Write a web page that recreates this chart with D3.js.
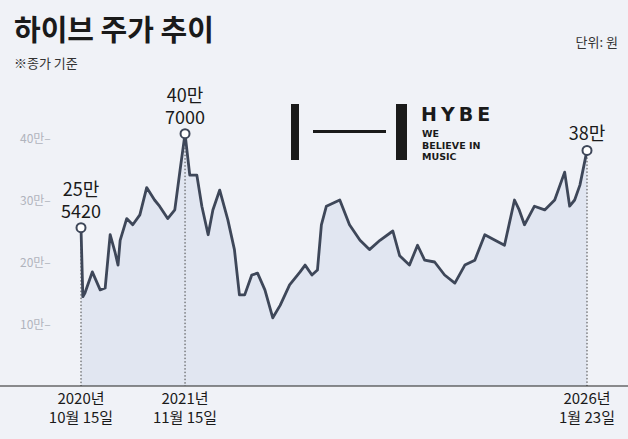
<!DOCTYPE html>
<html><head><meta charset="utf-8">
<script src="https://cdn.jsdelivr.net/npm/d3@7"></script>
<style>body{margin:0;background:#f0f2f7;}svg{display:block;font-family:"Noto Sans CJK KR","Noto Sans",sans-serif;}</style>
</head><body><div class="chart"></div>
<script>
// price in 만원
const dates = ["2020-10-15","2020-10-22","2020-10-30","2020-11-27","2020-12-27","2021-01-15","2021-02-03","2021-02-22","2021-03-05","2021-03-13","2021-04-07","2021-04-30","2021-05-27","2021-06-22","2021-07-22","2021-08-10","2021-09-10","2021-10-07","2021-10-27","2021-11-15","2021-12-03","2021-12-30","2022-01-18","2022-02-11","2022-03-01","2022-03-27","2022-04-27","2022-05-22","2022-06-10","2022-06-30","2022-07-27","2022-08-18","2022-09-15","2022-10-15","2022-11-12","2022-12-18","2023-01-27","2023-02-15","2023-03-13","2023-04-03","2023-04-18","2023-05-07","2023-06-27","2023-08-03","2023-09-12","2023-10-18","2023-11-27","2024-01-15","2024-02-10","2024-03-18","2024-04-18","2024-05-15","2024-06-22","2024-07-30","2024-09-07","2024-10-15","2024-11-22","2024-12-30","2025-02-07","2025-03-15","2025-04-22","2025-05-10","2025-05-30","2025-07-07","2025-08-15","2025-09-22","2025-10-30","2025-11-18","2025-12-07","2025-12-27","2026-01-23"];
const prices = [25.54,14.4,15,18.4,15.5,15.8,24.4,21.5,19.5,23.5,27,26,27.6,32,30,29,27,28.4,34.8,40.7,34,34,29,24.4,28.4,31.6,26.8,22,14.7,14.7,17.9,18.2,15.5,11,13,16.3,18.4,19.5,17.9,18.7,26,29,30,26,23.5,22,23.5,25,21,19.5,22.7,20.3,20,17.9,16.6,19.5,20.3,24.4,23.5,22.7,30,28.4,26,29,28.4,30,34.5,29,30,32.4,38];
const yTicks = [10,20,30,40];
const marks = [
  {date:"2020-10-15", value:25.542, label:["25만","5420"], axis:["2020년","10월 15일"]},
  {date:"2021-11-15", value:40.7, label:["40만","7000"], axis:["2021년","11월 15일"]},
  {date:"2026-01-23", value:38, label:["38만"], axis:["2026년","1월 23일"]}
];

const W = 628, H = 439;
const parse = d3.timeParse("%Y-%m-%d");
const data = dates.map((d, i) => ({d: parse(d), v: prices[i]}));
const svg = d3.select(".chart").append("svg").attr("width", W).attr("height", H);

const x = d3.scaleTime().domain([parse(dates[0]), parse(dates[dates.length - 1])]).range([81, 587]);
const y = d3.scaleLinear().domain([0, 40]).range([386, 138]);

// title
svg.append("text").attr("x", 14).attr("y", 41).text("하이브 주가 추이")
  .style("font-size", "29px").style("font-weight", 700).style("fill", "#1a1a1a");
svg.append("text").attr("x", 14).attr("y", 68).text("※종가 기준")
  .style("font-size", "13px").style("fill", "#333");
svg.append("text").attr("x", 618).attr("y", 47).attr("text-anchor", "end").text("단위: 원")
  .style("font-size", "13px").style("fill", "#333");

// logo
const logo = svg.append("g").style("fill", "#1a1a1a");
logo.append("rect").attr("x", 291).attr("y", 104).attr("width", 8).attr("height", 56);
logo.append("rect").attr("x", 313).attr("y", 130).attr("width", 73).attr("height", 3);
logo.append("rect").attr("x", 396).attr("y", 104).attr("width", 11).attr("height", 56);
logo.append("text").attr("x", 421).attr("y", 121).text("HYBE")
  .style("font-family", "DejaVu Sans").style("font-size", "19px").style("font-weight", 700).style("letter-spacing", "4px");
["WE", "BELIEVE IN", "MUSIC"].forEach((t, i) => {
  logo.append("text").attr("x", 422).attr("y", 137 + i * 11.5).text(t)
    .style("font-family", "DejaVu Sans").style("font-size", "9.5px").style("font-weight", 600);
});

// y axis labels
svg.selectAll(".yt").data(yTicks).enter().append("text")
  .attr("x", 20).attr("y", d => y(d) + 5).text(d => d + "만–")
  .style("font-size", "12px").style("fill", "#b0b4bd");

// area + line
svg.append("path").datum(data)
  .attr("d", d3.area().x(d => x(d.d)).y0(y(0)).y1(d => y(d.v)))
  .style("fill", "#e1e6f1");

marks.forEach(m => {
  svg.append("line").attr("x1", x(parse(m.date))).attr("x2", x(parse(m.date)))
    .attr("y1", y(m.value)).attr("y2", y(0))
    .style("stroke", "#444").style("stroke-width", 1).style("stroke-dasharray", "1.5,2");
});

svg.append("path").datum(data)
  .attr("d", d3.line().x(d => x(d.d)).y(d => y(d.v)))
  .style("fill", "none").style("stroke", "#3e4759").style("stroke-width", 2.8).style("stroke-linejoin", "round");

// baseline
svg.append("line").attr("x1", 0).attr("x2", W).attr("y1", y(0)).attr("y2", y(0))
  .style("stroke", "#222").style("stroke-width", 1.2);

marks.forEach(m => {
  const cx = x(parse(m.date)), cy = y(m.value);
  svg.append("circle").attr("cx", cx).attr("cy", cy).attr("r", 4.5)
    .style("fill", "#fff").style("stroke", "#3e4759").style("stroke-width", 2);
  m.label.forEach((t, i) => {
    svg.append("text").attr("x", cx).attr("y", cy - 10 - (m.label.length - 1 - i) * 22)
      .attr("text-anchor", "middle").text(t).style("font-size", "18px").style("fill", "#1a1a1a");
  });
  m.axis.forEach((t, i) => {
    svg.append("text").attr("x", cx).attr("y", 404 + i * 19)
      .attr("text-anchor", "middle").text(t).style("font-size", "15px").style("fill", "#1a1a1a");
  });
});
</script></body></html>
